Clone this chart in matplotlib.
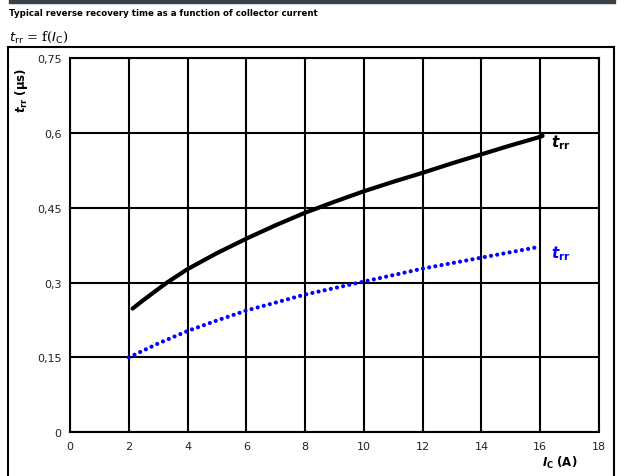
import matplotlib
matplotlib.use("Agg")
import matplotlib.pyplot as plt
from matplotlib.patches import Rectangle

# collector current (A) and reverse recovery time (us)
ic_black = [2.13, 2.5, 3.0, 3.3, 4, 5, 6, 7, 8, 9, 10, 11, 12, 13, 14, 15, 16, 16.08]
trr_black = [0.248, 0.265, 0.287, 0.300, 0.327, 0.359, 0.388, 0.415, 0.440,
             0.462, 0.483, 0.502, 0.520, 0.539, 0.557, 0.575, 0.592, 0.594]

ic_blue = [2, 3, 4, 5, 6, 7, 8, 9, 10, 11, 12, 13, 14, 15, 16]
trr_blue = [0.150, 0.178, 0.203, 0.224, 0.244, 0.260, 0.276, 0.289, 0.302,
            0.315, 0.328, 0.339, 0.350, 0.361, 0.372]

xticks = list(range(0, 19, 2))
yticks = [0, 0.15, 0.3, 0.45, 0.6, 0.75]
ytick_labels = ["0", "0,15", "0,3", "0,45", "0,6", "0,75"]

W, H = 625, 477
fig = plt.figure(figsize=(W / 100, H / 100), dpi=100)

# header bar and outer frame
fig.patches.append(Rectangle((9 / W, 1 - 4 / H), 606 / W, 4 / H, transform=fig.transFigure,
                             color="#3b4149", zorder=0))
fig.patches.append(Rectangle((8 / W, -0.05), 606 / W, 0.05 + (H - 48) / H, transform=fig.transFigure,
                             fill=False, edgecolor="black", linewidth=1.5, zorder=0))

fig.text(9 / W, 1 - 14 / H, "Typical reverse recovery time as a function of collector current",
         fontsize=6.2, fontweight="bold", va="center", ha="left")
fig.text(9 / W, 1 - 37 / H, r"$t_{\rm rr}$ = f($I_{\rm C}$)", fontsize=9.5,
         family="DejaVu Serif", va="center", ha="left")

ax = fig.add_axes([70 / W, 43.7 / H, 529 / W, 374.3 / H])
ax.plot(ic_black, trr_black, color="black", lw=3.0, solid_capstyle="round", zorder=3)
ax.plot(ic_blue, trr_blue, color="#0000ff", lw=3.0, linestyle=(0, (0.01, 1.5)),
        dash_capstyle="round", zorder=3)

ax.set_xlim(0, 18)
ax.set_ylim(0, 0.75)
ax.set_xticks(xticks)
ax.set_yticks(yticks)
ax.set_yticklabels(ytick_labels)
ax.tick_params(length=0, labelsize=8, pad=6, colors="#222222")
ax.grid(True, color="black", lw=1.5)
for s in ax.spines.values():
    s.set_linewidth(1.5)

ax.text(16.35, trr_black[-1] - 0.012, r"$\mathbfit{t}_{\mathbf{rr}}$", fontsize=11,
        color="black", va="center", ha="left", clip_on=False)
ax.text(16.35, trr_blue[-1] - 0.012, r"$\mathbfit{t}_{\mathbf{rr}}$", fontsize=11,
        color="#0000ff", va="center", ha="left", clip_on=False)

fig.text(22 / W, 1 - 90 / H, r"$\mathbfit{t}_{\mathbf{rr}}$ $\mathbf{(\mu s)}$", fontsize=8.5,
         rotation=90, va="center", ha="center")
fig.text(560 / W, 1 - 463 / H, r"$\mathbfit{I}_{\mathbf{C}}$ $\mathbf{(A)}$", fontsize=8.5,
         va="center", ha="center")

fig.savefig("out.png", dpi=100)
